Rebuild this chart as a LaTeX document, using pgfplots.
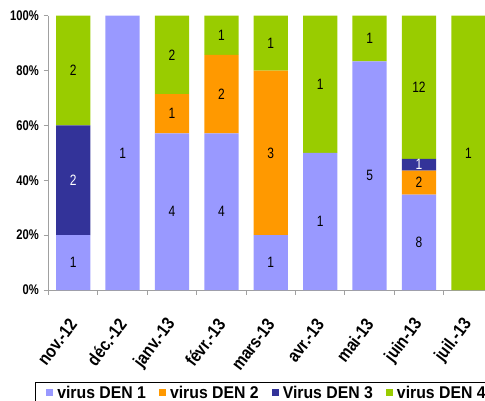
\documentclass[border=0pt]{standalone}
\usepackage{fontspec}
\setmainfont{Liberation Sans}[FakeStretch=0.8]
\newfontfamily\legfont{Liberation Sans}[FakeStretch=0.93]
\newfontfamily\xfont{Liberation Sans}[FakeStretch=0.85]
\usepackage{pgfplots}
\pgfplotsset{compat=1.18}
\definecolor{denA}{HTML}{9999FF}
\definecolor{denB}{HTML}{FF9900}
\definecolor{denC}{HTML}{333399}
\definecolor{denD}{HTML}{99CC00}
\definecolor{axgray}{HTML}{A0A0A0}
\pgfplotsset{common/.style={
  at={(48.5pt,110pt)}, anchor=south west,
  scale only axis, width=444.6pt, height=274.3pt,
  xmin=-0.5, xmax=8.5, ymin=0, ymax=100,
}}
% percentages per month (share of each serotype), counts for labels
\pgfplotstableread{
x  p1     p2     p3    p4
0  20     0      40    40
1  100    0      0     0
2  57.14  14.29  0     28.57
3  57.14  28.57  0     14.29
4  20     60     0     20
5  50     0      0     50
6  83.33  0      0     16.67
7  34.78  8.70   4.35  52.17
8  0      0      0     100
}\datatable
\begin{document}
\begin{tikzpicture}
\path[use as bounding box] (0,0) rectangle (485pt,400pt);
\clip (0,0) rectangle (485pt,400pt);
\begin{axis}[common,
  ybar stacked, bar width=0.694,
  axis lines*=left,
  axis line style={axgray, line width=1pt},
  tick align=outside,
  xtick={0,...,8},
  xticklabels={nov.-12, déc.-12, janv.-13, févr.-13, mars-13, avr.-13, mai-13, juin-13, juil.-13},
  minor xtick={-0.5,0.5,...,8.5},
  major tick length=5pt, minor tick length=5pt,
  tick style={axgray, line width=1pt},
  major x tick style={draw=none},
  ytick={0,20,...,100},
  yticklabel={\pgfmathprintnumber{\tick}\%},
  /pgf/number format/assume math mode=true,
  tick label style={font=\bfseries\fontsize{14}{14}\selectfont},
  yticklabel style={anchor=east, inner sep=0pt, xshift=-4.5pt},
  xticklabel style={yshift=-26pt, rotate=53, anchor=east, inner sep=0pt, font=\xfont\bfseries\fontsize{18}{18}\selectfont},
  legend columns=4,
  legend style={at={(-0.0304,-0.334)}, anchor=north west, draw=black, line width=0.6pt,
    inner xsep=11pt, inner ysep=2pt,
    font=\legfont\bfseries\fontsize{17}{17}\selectfont,
    nodes={inner xsep=4pt},
    /tikz/every even column/.append style={column sep=9pt}},
  legend image code/.code={\path[#1, draw=none] (0pt,-3.5pt) rectangle (7pt,3.5pt);},
]
\addplot[fill=denA, draw=none] table[x=x, y=p1] {\datatable};
\addplot[fill=denB, draw=none] table[x=x, y=p2] {\datatable};
\addplot[fill=denC, draw=none] table[x=x, y=p3] {\datatable};
\addplot[fill=denD, draw=none] table[x=x, y=p4] {\datatable};
\legend{virus DEN 1, virus DEN 2, Virus DEN 3, virus DEN 4}
\end{axis}
\begin{axis}[common, hide axis,
  every node near coord/.append style={anchor=center, font=\fontsize{15}{15}\selectfont}]
\addplot[draw=none, mark=none, nodes near coords, point meta=explicit symbolic]
  coordinates {(0,10)[1] (1,50)[1] (2,28.57)[4] (3,28.57)[4] (4,10)[1] (5,25)[1] (6,41.67)[5] (7,17.39)[8]};
\addplot[draw=none, mark=none, nodes near coords, point meta=explicit symbolic]
  coordinates {(2,64.29)[1] (3,71.43)[2] (4,50)[3] (7,39.13)[2]};
\addplot[draw=none, mark=none, nodes near coords, point meta=explicit symbolic,
  every node near coord/.append style={white}]
  coordinates {(0,40)[2] (7,45.65)[1]};
\addplot[draw=none, mark=none, nodes near coords, point meta=explicit symbolic]
  coordinates {(0,80)[2] (2,85.71)[2] (3,92.86)[1] (4,90)[1] (5,75)[1] (6,91.67)[1] (7,73.91)[12] (8,50)[1]};
\end{axis}
\end{tikzpicture}
\end{document}
